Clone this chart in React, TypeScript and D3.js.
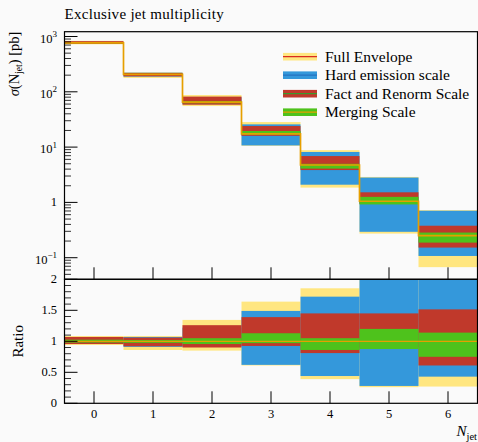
import { useEffect } from "react";
import * as d3 from "d3";

// exclusive jet multiplicity, bins 0..6
const nJet = [0, 1, 2, 3, 4, 5, 6];
const central = [770, 207, 65, 17.3, 4.75, 1.05, 0.25];

// ratio bands (band / central)
const fullLo = [0.94, 0.86, 0.85, 0.61, 0.39, 0.26, 0.27];
const fullHi = [1.085, 1.085, 1.345, 1.64, 1.855, 2.75, 2.9];
const hardLo = [0.97, 0.91, 0.92, 0.62, 0.44, 0.28, 0.43];
const hardHi = [1.03, 1.07, 1.22, 1.49, 1.72, 2.68, 2.83];
const factLo = [0.956, 0.92, 0.9, 0.925, 0.81, 0.9, 0.61];
const factHi = [1.07, 1.06, 1.26, 1.39, 1.45, 1.45, 1.515];
const mergLo = [0.98, 0.975, 0.956, 0.97, 0.86, 0.875, 0.75];
const mergHi = [1.026, 1.02, 1.05, 1.13, 1.05, 1.2, 1.14];

const legendLabels = ["Full Envelope", "Hard emission scale", "Fact and Renorm Scale", "Merging Scale"];
const logMajor = [0.1, 1, 10, 100, 1000];
const ratioMajor = [0, 0.5, 1, 1.5, 2];

const YELLOW = "#ffe680";
const BLUE = "#3498db";
const RED = "#c0392b";
const GREEN = "#4ec21c";
const ORANGE = "#e69f00";
const FONT = "'Liberation Serif', serif";

const W = 478, H = 442;
const L = 64.5, R = 477.5;
const mainTop = 31.7, mainBot = 279.3, ratioBot = 403.3;

export default function App() {
  useEffect(() => {
    document.body.style.margin = "0";
    document.body.style.background = "#fafafa";
  }, []);

  const x = d3.scaleLinear().domain([-0.5, 6.5]).range([L, R]);
  const y = d3.scaleLog().domain([0.04069, 1221.6]).range([mainBot, mainTop]);
  const yr = d3.scaleLinear().domain([0, 2]).range([ratioBot, mainBot]).clamp(true);

  const bands = [
    { lo: fullLo, hi: fullHi, fill: YELLOW },
    { lo: hardLo, hi: hardHi, fill: BLUE },
    { lo: factLo, hi: factHi, fill: RED },
    { lo: mergLo, hi: mergHi, fill: GREEN },
  ];
  const legendSw = [
    { fill: YELLOW, line: "#d92b1f" },
    { fill: BLUE, line: "#2472c0" },
    { fill: RED, line: "#3a9a2a" },
    { fill: GREEN, line: ORANGE },
  ];

  // step line for central values
  const stepPts: [number, number][] = [];
  nJet.forEach((n, i) => {
    stepPts.push([x(n - 0.5), y(central[i])]);
    stepPts.push([x(n + 0.5), y(central[i])]);
  });
  const stepLine = d3.line()(stepPts);

  const minors: number[] = [];
  for (let d = -2; d <= 3; d++)
    for (let k = 2; k <= 9; k++) {
      const v = k * Math.pow(10, d);
      if (v > y.domain()[0] && v < y.domain()[1]) minors.push(v);
    }
  const ratioMinor = d3.range(0, 2.001, 0.1).filter(v => Math.abs(v * 2 - Math.round(v * 2)) > 1e-6);

  const powLabel = (v: number) => {
    const e = Math.round(Math.log10(v));
    if (e === 0) return <tspan>1</tspan>;
    return (
      <>
        <tspan>10</tspan>
        <tspan dy={-5.5} fontSize={9}>{e < 0 ? "\u2212" + -e : e}</tspan>
      </>
    );
  };

  return (
    <svg width={W} height={H} style={{ display: "block", fontFamily: FONT }}>
      <rect width={W} height={H} fill="#fafafa" />
      <defs>
        <clipPath id="rclip">
          <rect x={L} y={mainBot} width={R - L} height={ratioBot - mainBot} />
        </clipPath>
      </defs>

      <text x={L} y={18.5} fontSize={15} letterSpacing={0.3}>Exclusive jet multiplicity</text>

      {/* main panel bands */}
      {bands.map((b, j) =>
        nJet.map((n, i) => {
          const top = y(central[i] * b.hi[i]);
          const bot = y(central[i] * b.lo[i]);
          return (
            <rect key={`m${j}-${i}`} x={x(n - 0.5)} width={x(n + 0.5) - x(n - 0.5)}
              y={top} height={bot - top} fill={b.fill} />
          );
        })
      )}
      <path d={stepLine!} fill="none" stroke={ORANGE} strokeWidth={1.7} />

      {/* ratio panel bands */}
      <g clipPath="url(#rclip)">
        {bands.map((b, j) =>
          nJet.map((n, i) => {
            const top = yr(b.hi[i]);
            const bot = yr(b.lo[i]);
            return (
              <rect key={`r${j}-${i}`} x={x(n - 0.5)} width={x(n + 0.5) - x(n - 0.5)}
                y={top} height={bot - top} fill={b.fill} />
            );
          })
        )}
        <line x1={L} x2={R} y1={yr(1)} y2={yr(1)} stroke={ORANGE} strokeWidth={1.2} />
      </g>

      {/* legend */}
      {legendLabels.map((lab, i) => {
        const cy = 56.7 + i * 18.5;
        return (
          <g key={lab}>
            <rect x={283} y={cy - 3.8} width={34} height={7.6} fill={legendSw[i].fill} />
            <line x1={283} x2={317} y1={cy} y2={cy} stroke={legendSw[i].line} strokeWidth={1.2} />
            <text x={325} y={cy + 4.8} fontSize={15.5}>{lab}</text>
          </g>
        );
      })}

      {/* frames */}
      <rect x={L} y={mainTop} width={R - L} height={mainBot - mainTop} fill="none" stroke="#000" strokeWidth={1.2} />
      <rect x={L} y={mainBot} width={R - L} height={ratioBot - mainBot} fill="none" stroke="#000" strokeWidth={1.2} />

      {/* main y axis */}
      {logMajor.map(v => (
        <g key={`lm${v}`}>
          <line x1={L} x2={L + 13} y1={y(v)} y2={y(v)} stroke="#000" strokeWidth={1} />
          <text x={57} y={y(v) + (v === 1 ? 4 : 6)} fontSize={12.5} textAnchor="end">{powLabel(v)}</text>
        </g>
      ))}
      {minors.map(v => (
        <line key={`ln${v}`} x1={L} x2={L + 6.5} y1={y(v)} y2={y(v)} stroke="#000" strokeWidth={0.8} />
      ))}

      {/* ratio y axis */}
      {ratioMajor.map(v => (
        <g key={`rm${v}`}>
          <line x1={L} x2={L + 13} y1={yr(v)} y2={yr(v)} stroke="#000" strokeWidth={1} />
          <text x={57} y={yr(v) + 4} fontSize={12.5} textAnchor="end">{v}</text>
        </g>
      ))}
      {ratioMinor.map(v => (
        <line key={`rn${v}`} x1={L} x2={L + 6.5} y1={yr(v)} y2={yr(v)} stroke="#000" strokeWidth={0.8} />
      ))}

      {/* x ticks */}
      {nJet.map(n => (
        <g key={`x${n}`}>
          <line x1={x(n)} x2={x(n)} y1={mainBot} y2={mainBot - 12} stroke="#000" strokeWidth={1} />
          <line x1={x(n)} x2={x(n)} y1={ratioBot} y2={ratioBot - 12} stroke="#000" strokeWidth={1} />
          <text x={x(n)} y={418} fontSize={12.5} textAnchor="middle">{n}</text>
        </g>
      ))}

      {/* axis labels */}
      <text transform={`translate(19,${mainTop}) rotate(-90)`} textAnchor="end" fontSize={14.5}>
        <tspan fontStyle="italic">σ</tspan>(N<tspan dy={3} fontSize={9.5}>jet</tspan><tspan dy={-3}>) [pb]</tspan>
      </text>
      <text transform={`translate(22.5,${yr(1)}) rotate(-90)`} textAnchor="middle" fontSize={15}>Ratio</text>
      <text x={477} y={436} textAnchor="end" fontSize={15}>
        <tspan fontStyle="italic">N</tspan><tspan dy={3.5} fontSize={10.5}>jet</tspan>
      </text>
    </svg>
  );
}
